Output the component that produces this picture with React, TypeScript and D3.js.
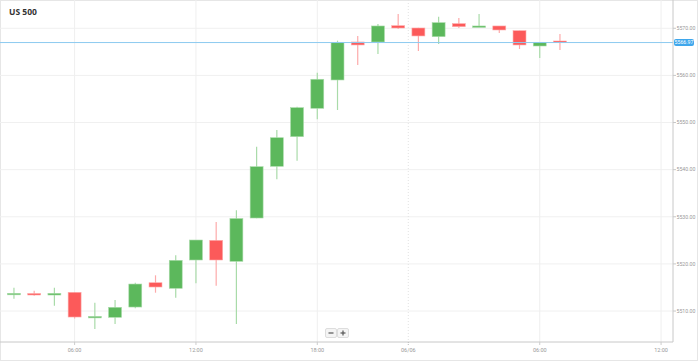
import React from "react";
import * as d3 from "d3";

const title = "US 500";
const times = ["03:00","04:00","05:00","06:00","07:00","08:00","09:00","10:00","11:00","12:00","13:00","14:00","15:00","16:00","17:00","18:00","19:00","20:00","21:00","22:00","00:00","01:00","02:00","03:00","04:00","05:00","06:00","07:00"];
const opens  = [5513.46,5513.72,5513.40,5513.97,5508.73,5508.67,5510.85,5516.01,5514.82,5520.83,5525.00,5520.55,5529.74,5540.71,5547.00,5553.02,5559.03,5567.09,5567.09,5570.55,5570.06,5568.22,5570.98,5570.28,5570.49,5569.49,5566.24,5567.30];
const highs  = [5514.95,5514.31,5514.95,5514.00,5511.77,5512.34,5516.01,5517.58,5521.83,5525.10,5528.89,5531.38,5544.87,5548.42,5553.36,5560.58,5567.37,5568.37,5570.91,5573.03,5570.10,5572.46,5572.19,5573.03,5570.50,5569.50,5567.03,5568.79];
const lows   = [5512.61,5513.25,5511.13,5508.41,5506.18,5507.25,5510.58,5513.89,5512.83,5515.88,5515.37,5507.25,5529.70,5537.95,5541.90,5550.69,5552.66,5562.21,5564.55,5569.85,5565.18,5566.67,5570.06,5570.28,5569.00,5565.61,5563.70,5565.39];
const closes = [5513.76,5513.44,5513.76,5508.73,5508.86,5510.79,5515.73,5515.10,5520.76,5525.07,5520.83,5529.63,5540.63,5546.78,5553.15,5559.18,5567.03,5566.46,5570.49,5570.06,5568.37,5571.19,5570.34,5570.49,5569.64,5566.46,5567.03,5566.97];
const yTicks = [5510, 5520, 5530, 5540, 5550, 5560, 5570];
const xTickIdx = [3, 9, 15, 19.5, 26, 32];
const xTickLabels = ["06:00", "12:00", "18:00", "06/06", "06:00", "12:00"];
const currentPrice = 5566.97;

const W = 698, H = 361;
const plotL = 0, plotR = 673, plotT = 0, plotB = 342;
const GREEN = "#5cb85c", RED = "#fc5a5a";
const GREEN_W = "#a9dba9", RED_W = "#fdaaaa";
const FONT = "Roboto, 'Open Sans', sans-serif";

export default function App() {
  const x = d3.scaleLinear().domain([-0.69, 32.59]).range([plotL, plotR]);
  const y = d3.scaleLinear().domain([5503.43, 5576.0]).range([plotB, plotT]);
  const step = x(1) - x(0);
  const bw = step * 0.64;
  return (
    <div style={{ position: "absolute", left: 0, top: 0 }}>
      <svg width={W} height={H} style={{ display: "block", background: "#fff" }}>
        <rect x={0.5} y={0.5} width={W - 1} height={H - 1} fill="#fff" stroke="#e6e6e6" />
        {yTicks.map((t) => (
          <line key={"gy" + t} x1={plotL} x2={plotR} y1={y(t)} y2={y(t)} stroke="#f0f0f0" />
        ))}
        {xTickIdx.map((t, i) => (
          <line key={"gx" + i} x1={x(t)} x2={x(t)} y1={plotT} y2={plotB} stroke={i === 3 ? "#e2e2e2" : "#efefef"} strokeDasharray={i === 3 ? "1,2" : undefined} />
        ))}
        <text x={9} y={15} fontFamily="'Open Sans', sans-serif" fontWeight={700} fontSize={8.5} fill="#333">{title}</text>
        {times.map((tm, i) => {
          const up = closes[i] >= opens[i];
          const cx = x(i);
          const top = y(Math.max(opens[i], closes[i]));
          const bot = y(Math.min(opens[i], closes[i]));
          const h = Math.max(1.5, bot - top);
          return (
            <g key={"c" + i}>
              <line x1={cx} x2={cx} y1={y(highs[i])} y2={y(lows[i])} stroke={up ? GREEN_W : RED_W} strokeWidth={1.2} />
              <rect x={cx - bw / 2} y={top} width={bw} height={h} fill={up ? GREEN : RED} stroke={up ? GREEN_W : RED_W} strokeWidth={0.6} />
            </g>
          );
        })}
        <line x1={plotL} x2={plotR} y1={y(currentPrice)} y2={y(currentPrice)} stroke="#8ccaf0" strokeWidth={1} />
        <line x1={plotR} x2={plotR} y1={plotT} y2={plotB} stroke="#c8c8c8" />
        <line x1={plotL} x2={plotR} y1={plotB} y2={plotB} stroke="#c8c8c8" />
        {yTicks.map((t) => (
          <g key={"ty" + t}>
            <line x1={plotR} x2={plotR + 3} y1={y(t)} y2={y(t)} stroke="#c8c8c8" />
            <text x={plotR + 3.5} y={y(t)} dy="0.35em" fontFamily={FONT} fontSize={5.2} fill="#999">{d3.format(".2f")(t)}</text>
          </g>
        ))}
        <rect x={plotR + 1} y={y(currentPrice) - 3.5} width={20} height={7} rx={2} fill="#3fa7ec" />
        <text x={plotR + 11} y={y(currentPrice)} dy="0.35em" textAnchor="middle" fontFamily={FONT} fontSize={5.2} fill="#fff">{d3.format(".2f")(currentPrice)}</text>
        {xTickIdx.map((t, i) => (
          <g key={"tx" + i}>
            <line x1={x(t)} x2={x(t)} y1={plotB} y2={plotB + 3} stroke={i === 3 ? "#bbb" : "#ccc"} strokeDasharray={i === 3 ? "1,1" : undefined} />
            <text x={x(t)} y={plotB + 8} dy="0.35em" textAnchor="middle" fontFamily={FONT} fontSize={5.5} fill="#999">{xTickLabels[i]}</text>
          </g>
        ))}
        <g fontFamily={FONT}>
          <rect x={325.5} y={328.5} width={11} height={9} rx={1.5} fill="#f4f4f4" stroke="#ddd" />
          <rect x={337.5} y={328.5} width={11} height={9} rx={1.5} fill="#f4f4f4" stroke="#ddd" />
          <line x1={328.5} x2={333.5} y1={333} y2={333} stroke="#555" strokeWidth={1.2} />
          <line x1={340.5} x2={345.5} y1={333} y2={333} stroke="#555" strokeWidth={1.2} />
          <line x1={343} x2={343} y1={330.5} y2={335.5} stroke="#555" strokeWidth={1.2} />
        </g>
      </svg>
    </div>
  );
}
